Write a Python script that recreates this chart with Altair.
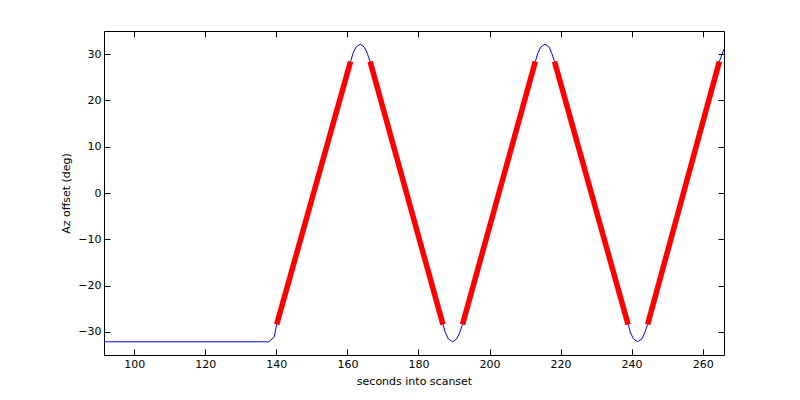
import altair as alt
import pandas as pd

# Blue trajectory (seconds, az offset in deg)
blue_t = [91.5, 137.9, 139.4, 140.1,
          160.9, 161.6, 162.4, 163.6, 164.8, 165.6, 166.4,
          186.9, 187.6, 188.4, 189.6, 190.8, 191.6, 192.4,
          212.9, 213.6, 214.4, 215.6, 216.8, 217.5, 218.3,
          239.0, 239.7, 240.5, 241.7, 242.9, 243.7, 244.5,
          264.7, 266.0]
blue_az = [-32.15, -32.15, -31.1, -28.4,
           28.4, 30.2, 31.5, 32.15, 31.5, 30.2, 28.4,
           -28.4, -30.2, -31.5, -32.15, -31.5, -30.2, -28.4,
           28.4, 30.2, 31.5, 32.15, 31.5, 30.2, 28.4,
           -28.4, -30.2, -31.5, -32.15, -31.5, -30.2, -28.4,
           28.4, 31.1]

# Red constant-speed segments
red_seg = [1, 1, 2, 2, 3, 3, 4, 4, 5, 5]
red_t = [140.1, 160.9, 166.4, 186.9, 192.4, 212.9, 218.3, 239.0, 244.5, 264.7]
red_az = [-28.4, 28.4, 28.4, -28.4, -28.4, 28.4, 28.4, -28.4, -28.4, 28.4]

x_ticks = [100, 120, 140, 160, 180, 200, 220, 240, 260]
y_ticks = [-30, -20, -10, 0, 10, 20, 30]
x_domain = [91.5, 266.0]
y_domain = [-35, 35]

blue_df = pd.DataFrame({"t": blue_t, "az": blue_az, "order": list(range(len(blue_t)))})
red_df = pd.DataFrame({"t": red_t, "az": red_az, "seg": red_seg})

FONT = "DejaVu Sans"

x_scale = alt.Scale(domain=x_domain, nice=False, zero=False)
y_scale = alt.Scale(domain=y_domain, nice=False, zero=False)

common_axis = dict(domain=False, grid=False, tickSize=6, offset=-6, tickColor="black",
                   tickWidth=1, labelFont=FONT, labelFontSize=11, labelColor="black",
                   titleFont=FONT, titleFontSize=11, titleColor="black", titleFontWeight="normal")

blue = alt.Chart(blue_df).mark_line(color="#0000ff", strokeWidth=1).encode(
    x=alt.X("t:Q", scale=x_scale,
            axis=alt.Axis(orient="bottom", values=x_ticks, title="seconds into scanset",
                          labelPadding=3, titlePadding=6, **common_axis)),
    y=alt.Y("az:Q", scale=y_scale,
            axis=alt.Axis(orient="left", values=y_ticks, title="Az offset (deg)",
                          labelPadding=3, titlePadding=6, **common_axis)),
    order="order:Q",
)

red = alt.Chart(red_df).mark_line(color="#ff0000", strokeWidth=5.5, strokeCap="butt").encode(
    x=alt.X("t:Q", scale=x_scale,
            axis=alt.Axis(orient="top", values=x_ticks, labels=False, title=None,
                          domain=False, grid=False, tickSize=6, offset=-6, tickColor="black")),
    y=alt.Y("az:Q", scale=y_scale,
            axis=alt.Axis(orient="right", values=y_ticks, labels=False, title=None,
                          domain=False, grid=False, tickSize=6, offset=-6, tickColor="black")),
    detail="seg:N",
)

chart = alt.layer(blue, red).resolve_axis(x="independent", y="independent").properties(
    width=620,
    height=324,
    autosize=alt.AutoSizeParams(type="none"),
    padding={"left": 96, "top": 23, "right": 60, "bottom": 40},
    background="white",
).configure_view(stroke="black", strokeWidth=1)

chart.save("out.html", embed_options={"renderer": "svg", "actions": False})
